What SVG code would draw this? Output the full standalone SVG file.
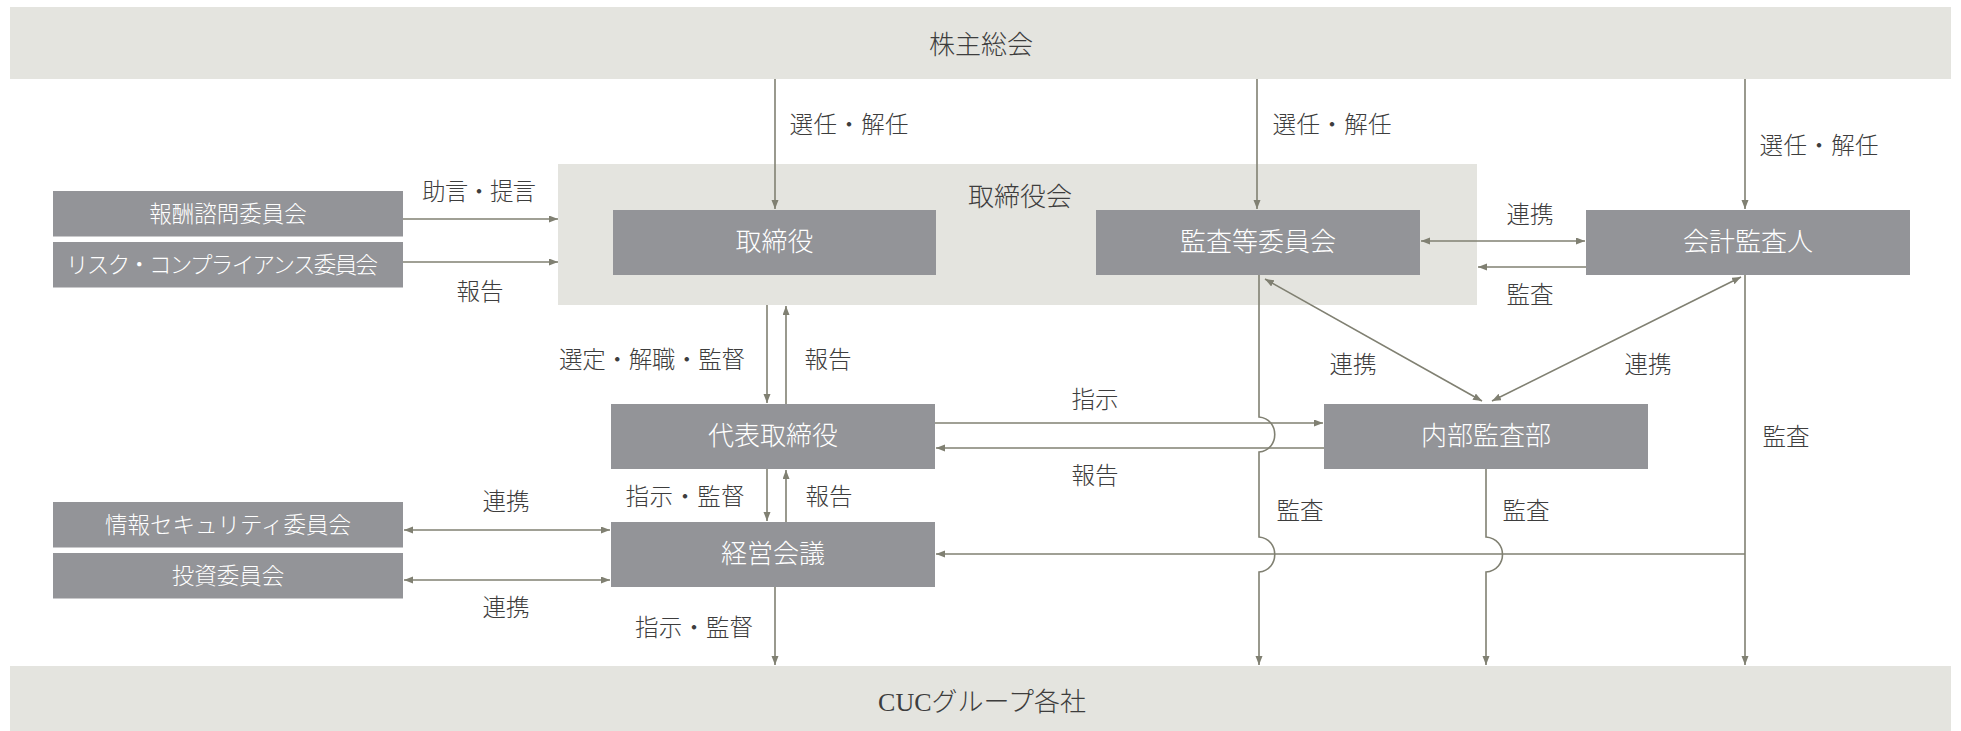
<svg xmlns="http://www.w3.org/2000/svg" width="1961" height="731" viewBox="0 0 1961 731">
<style>
.band{fill:#e4e4df}
.box{fill:#939498}
.bt{fill:#ffffff;font-family:"Liberation Serif","Noto Sans CJK JP",serif;font-size:26px;text-anchor:middle;dominant-baseline:central;font-weight:300}
.st{fill:#ffffff;font-family:"Liberation Serif","Noto Sans CJK JP",serif;font-size:22.5px;text-anchor:middle;dominant-baseline:central;font-weight:300}
.lt{fill:#3d3d3d;font-family:"Liberation Serif","Noto Sans CJK JP",serif;font-size:23.5px;text-anchor:middle;dominant-baseline:central;font-weight:300}
.ht{fill:#3d3d3d;font-family:"Liberation Serif","Noto Sans CJK JP",serif;font-size:26px;text-anchor:middle;dominant-baseline:central;font-weight:300}
.c{stroke:#808072;stroke-width:1.6;fill:none}
.a{marker-end:url(#ah)}
.d{marker-end:url(#ah);marker-start:url(#ah)}
</style>
<defs>
<marker id="ah" markerUnits="userSpaceOnUse" markerWidth="10" markerHeight="8" refX="9" refY="3.5" orient="auto-start-reverse">
<path d="M0,0 L9,3.5 L0,7 z" fill="#808072"/>
</marker>
</defs>

<g id="shareholders">
<rect class="band" x="10" y="7" width="1941" height="72"/>
<text class="ht" x="981" y="45">株主総会</text>
</g>
<g id="board">
<rect class="band" x="558" y="164" width="919" height="141"/>
<text class="ht" x="1020" y="197">取締役会</text>
</g>
<g id="group">
<rect class="band" x="10" y="666" width="1941" height="65"/>
<text class="ht" x="982" y="702">CUCグループ各社</text>
</g>
<g id="director">
<rect class="box" x="613" y="210" width="323" height="65"/>
<text class="bt" x="774.5" y="242.5">取締役</text>
</g>
<g id="audit-committee">
<rect class="box" x="1096" y="210" width="324" height="65"/>
<text class="bt" x="1258" y="242.5">監査等委員会</text>
</g>
<g id="accounting-auditor">
<rect class="box" x="1586" y="210" width="324" height="65"/>
<text class="bt" x="1748" y="242.5">会計監査人</text>
</g>
<g id="remuneration">
<rect class="box" x="53" y="191" width="350" height="45.5"/>
<text class="st" x="228" y="214">報酬諮問委員会</text>
</g>
<g id="risk-compliance">
<rect class="box" x="53" y="242" width="350" height="45.5"/>
<text class="st" x="222" y="265" textLength="312">リスク・コンプライアンス委員会</text>
</g>
<g id="representative">
<rect class="box" x="611" y="404" width="324" height="65"/>
<text class="bt" x="773" y="436.5">代表取締役</text>
</g>
<g id="internal-audit">
<rect class="box" x="1324" y="404" width="324" height="65"/>
<text class="bt" x="1486" y="436.5">内部監査部</text>
</g>
<g id="management-meeting">
<rect class="box" x="611" y="522" width="324" height="65"/>
<text class="bt" x="773" y="554.5">経営会議</text>
</g>
<g id="infosec">
<rect class="box" x="53" y="502" width="350" height="45.5"/>
<text class="st" x="228" y="525">情報セキュリティ委員会</text>
</g>
<g id="investment">
<rect class="box" x="53" y="553" width="350" height="45.5"/>
<text class="st" x="228" y="576">投資委員会</text>
</g>

<g id="connectors">
<line class="c a" x1="775" y1="79" x2="775" y2="209"/>
<line class="c a" x1="1257" y1="79" x2="1257" y2="209"/>
<line class="c a" x1="1745" y1="79" x2="1745" y2="209"/>
<line class="c a" x1="403" y1="219" x2="558" y2="219"/>
<line class="c a" x1="403" y1="262" x2="558" y2="262"/>
<line class="c d" x1="1421" y1="241" x2="1585" y2="241"/>
<line class="c a" x1="1586" y1="267" x2="1478" y2="267"/>
<line class="c a" x1="767" y1="305" x2="767" y2="403"/>
<line class="c a" x1="786" y1="404" x2="786" y2="306"/>
<line class="c d" x1="1265" y1="279" x2="1482" y2="401"/>
<line class="c d" x1="1741" y1="277" x2="1492" y2="401"/>
<line class="c a" x1="935" y1="423" x2="1323" y2="423"/>
<line class="c a" x1="1324" y1="448" x2="936" y2="448"/>
<line class="c a" x1="767" y1="469" x2="767" y2="521"/>
<line class="c a" x1="786" y1="522" x2="786" y2="470"/>
<line class="c d" x1="404" y1="530" x2="610" y2="530"/>
<line class="c d" x1="404" y1="580" x2="610" y2="580"/>
<line class="c a" x1="775" y1="587" x2="775" y2="665"/>
<path class="c a" d="M1259,275 V417 C1280,419 1280,450 1259,452 V537 C1280,539 1280,570 1259,572 V665"/>
<path class="c a" d="M1486,469 V537 C1508,539 1508,570 1486,572 V665"/>
<line class="c a" x1="1745" y1="275" x2="1745" y2="665"/>
<line class="c a" x1="1745" y1="554" x2="936" y2="554"/>
</g>

<g id="labels">
<text class="lt" x="849" y="125" textLength="119">選任・解任</text>
<text class="lt" x="1332" y="125" textLength="119">選任・解任</text>
<text class="lt" x="1819" y="146" textLength="119">選任・解任</text>
<text class="lt" x="479" y="192" textLength="114">助言・提言</text>
<text class="lt" x="480" y="292">報告</text>
<text class="lt" x="1530" y="215">連携</text>
<text class="lt" x="1530" y="295">監査</text>
<text class="lt" x="652" y="360" textLength="186">選定・解職・監督</text>
<text class="lt" x="828" y="360">報告</text>
<text class="lt" x="1353" y="365">連携</text>
<text class="lt" x="1648" y="365">連携</text>
<text class="lt" x="1095" y="400">指示</text>
<text class="lt" x="1095" y="476">報告</text>
<text class="lt" x="1786" y="437">監査</text>
<text class="lt" x="685" y="497" textLength="119">指示・監督</text>
<text class="lt" x="829" y="497">報告</text>
<text class="lt" x="506" y="502">連携</text>
<text class="lt" x="506" y="608">連携</text>
<text class="lt" x="1300" y="511">監査</text>
<text class="lt" x="1526" y="511">監査</text>
<text class="lt" x="694" y="628" textLength="118">指示・監督</text>
</g>
</svg>
